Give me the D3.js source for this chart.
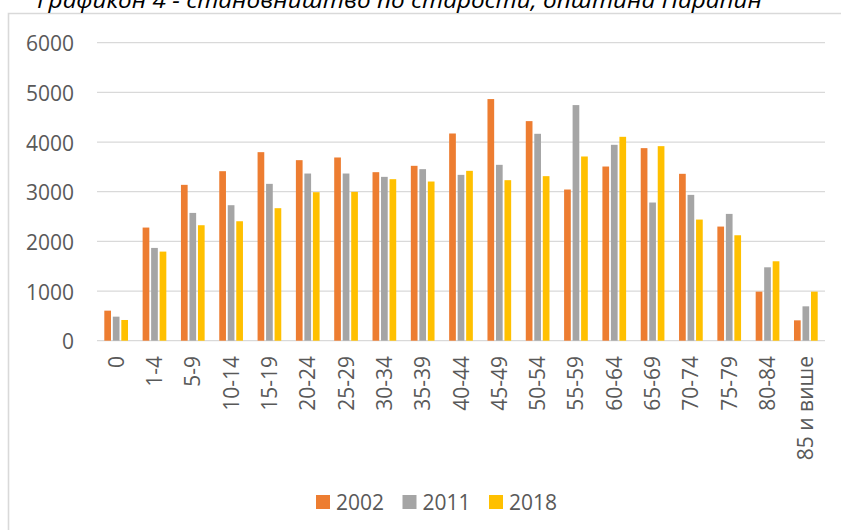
<!DOCTYPE html>
<html>
<head>
<meta charset="utf-8">
<script src="https://cdn.jsdelivr.net/npm/d3@7"></script>
<style>
  html, body { margin: 0; padding: 0; background: #fff; }
  svg { display: block; }
  text { font-family: "Open Sans", "Liberation Sans", sans-serif; fill: #595959; }
</style>
</head>
<body>
<svg id="chart" width="841" height="530"></svg>
<script>
const titleText = "Графикон 4 - становништво по старости, општина Параћин";
const categories = ["0","1-4","5-9","10-14","15-19","20-24","25-29","30-34","35-39","40-44","45-49","50-54","55-59","60-64","65-69","70-74","75-79","80-84","85 и више"];
const seriesNames = ["2002","2011","2018"];
const values2002 = [605,2278,3138,3413,3796,3635,3689,3393,3521,4172,4865,4421,3044,3507,3877,3360,2298,988,410];
const values2011 = [484,1868,2573,2728,3158,3366,3366,3299,3454,3339,3541,4166,4744,3944,2782,2936,2553,1478,692];
const values2018 = [417,1794,2325,2405,2668,2990,2997,3252,3205,3420,3232,3313,3709,4105,3917,2439,2123,1599,988];
const yTicks = [0,1000,2000,3000,4000,5000,6000];
const colors = ["#ED7D31","#A5A5A5","#FFC000"];

const svgEl = d3.select("#chart");

// outer chart border (partially visible)
svgEl.append("path")
  .attr("d", "M8.5,540 L8.5,13.5 L850,13.5")
  .attr("fill", "none").attr("stroke", "#d9d9d9").attr("stroke-width", 1.6);

// title (cut off at top)
svgEl.append("text")
  .attr("x", 37).attr("y", 7.5)
  .attr("textLength", 725).attr("lengthAdjust", "spacingAndGlyphs")
  .style("font-style", "italic").style("font-size", "22px").style("fill", "#000")
  .text(titleText);

const x = d3.scaleBand().domain(categories).range([97, 825]).padding(0);
const xs = d3.scaleBand().domain(seriesNames).range([-12.75, 12.75]).padding(0);
const y = d3.scaleLinear().domain([0, 6000]).range([340.7, 42.7]);

// gridlines
svgEl.append("g").selectAll("line").data(yTicks).join("line")
  .attr("x1", 97).attr("x2", 825)
  .attr("y1", d => y(d)).attr("y2", d => y(d))
  .attr("stroke", "#d9d9d9").attr("stroke-width", 1.3);

// y axis labels
const yAxis = d3.axisLeft(y).tickValues(yTicks).tickSize(0).tickPadding(0).tickFormat(d3.format("d"));
const gy = svgEl.append("g").attr("transform", "translate(74,0)").call(yAxis);
gy.select(".domain").remove();
gy.selectAll("text").attr("x", 0).attr("dy", null)
  .attr("dominant-baseline", "central")
  .style("font-size", "21px").style("fill", "#595959")
  .style("font-family", "'Open Sans', sans-serif");

// bars
const series = [values2002, values2011, values2018];
const bw = 6.7;
series.forEach((vals, si) => {
  svgEl.append("g").selectAll("rect").data(categories).join("rect")
    .attr("x", (c) => x(c) + x.bandwidth() / 2 + xs(seriesNames[si]) + (xs.bandwidth() - bw) / 2)
    .attr("width", bw)
    .attr("y", (c, i) => y(vals[i]))
    .attr("height", (c, i) => y(0) - y(vals[i]))
    .attr("fill", colors[si]);
});

// x axis labels (rotated)
const xAxis = d3.axisBottom(x).tickSize(0).tickPadding(0);
const gx = svgEl.append("g").attr("transform", "translate(0,356)").call(xAxis);
gx.select(".domain").remove();
gx.selectAll(".tick text")
  .attr("transform", "rotate(-90)")
  .attr("x", 0).attr("y", -0.5).attr("dy", null)
  .attr("text-anchor", "end")
  .attr("dominant-baseline", "central")
  .style("font-size", "21px").style("fill", "#595959")
  .style("font-family", "'Open Sans', sans-serif");

// legend
const legend = svgEl.append("g").selectAll("g").data(seriesNames).join("g")
  .attr("transform", (d, i) => `translate(${316 + i * 86.5},495)`);
legend.append("rect").attr("width", 14).attr("height", 14).attr("fill", (d, i) => colors[i]);
legend.append("text").attr("x", 20).attr("y", 7)
  .attr("dominant-baseline", "central")
  .style("font-size", "21px")
  .text(d => d);
</script>
</body>
</html>
